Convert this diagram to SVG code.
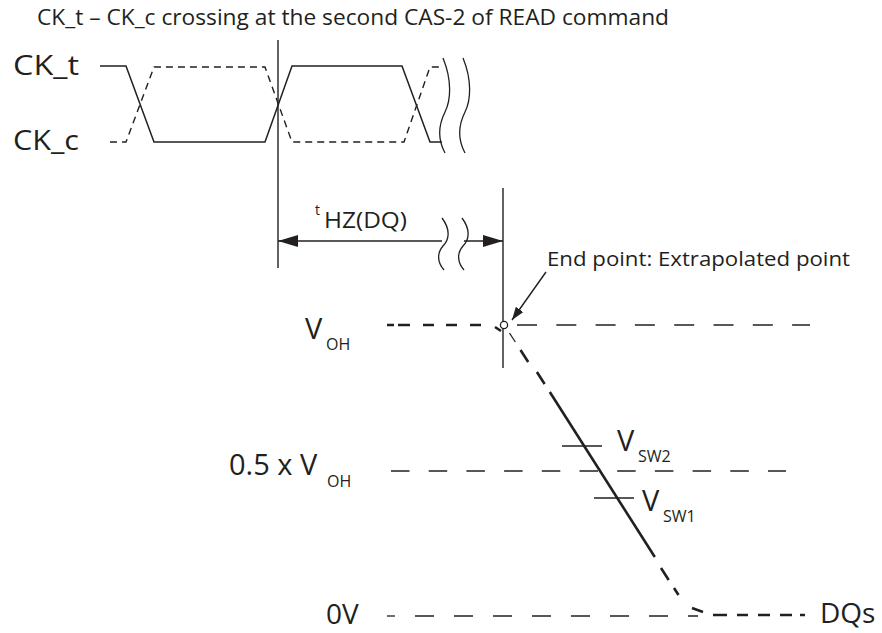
<svg xmlns="http://www.w3.org/2000/svg" width="882" height="633" viewBox="0 0 882 633">
<defs>
<style>
.t{font-family:"Open Sans","Noto Sans","Liberation Sans",sans-serif;fill:#231f20}
.ln{fill:none;stroke:#231f20;stroke-width:1.4}
.thin{fill:none;stroke:#231f20;stroke-width:1.3}
.thk{fill:none;stroke:#231f20;stroke-width:2.6}
.ck{fill:none;stroke:#231f20;stroke-width:1.5}
.ckd{fill:none;stroke:#231f20;stroke-width:1.4;stroke-dasharray:7 5}
</style>
<marker id="ah" viewBox="0 0 20 12" refX="20" refY="6" markerWidth="20" markerHeight="12" markerUnits="userSpaceOnUse" orient="auto-start-reverse">
<path d="M0,0 L20,6 L0,12 Z" fill="#231f20"/>
</marker>
<marker id="ah2" viewBox="0 0 13 9" refX="13" refY="4.5" markerWidth="13" markerHeight="9" markerUnits="userSpaceOnUse" orient="auto">
<path d="M0,0 L13,4.5 L0,9 Z" fill="#231f20"/>
</marker>
</defs>
<rect width="882" height="633" fill="#fff"/>

<g id="title">
<text class="t" x="37" y="25" font-size="21" textLength="632" lengthAdjust="spacingAndGlyphs">CK_t – CK_c crossing at the second CAS-2 of READ command</text>
</g>

<g id="clock">
<text class="t" x="13" y="75" font-size="28" textLength="66" lengthAdjust="spacingAndGlyphs">CK_t</text>
<text class="t" x="13" y="150" font-size="28" textLength="66" lengthAdjust="spacingAndGlyphs">CK_c</text>
<path class="ck" d="M100,66 L126,66 L154,142 L265,142 L292,66 L402,66 L430,142 L442,142"/>
<path class="ckd" d="M110,142 L126,142 L154,67 L265,67 L292,142 L404,142 L430,67 L442,67"/>
<path class="thin" d="M443,58 C452,80 451,100 445,112 C438,126 438,140 445,153"/>
<path class="thin" d="M463,58 C472,80 471,100 465,112 C458,126 458,140 465,153"/>
</g>

<g id="connectors">
<line class="ln" x1="278" y1="40" x2="278" y2="268"/>
<line class="ln" x1="503" y1="188" x2="503" y2="368"/>
<line class="ln" x1="278" y1="241" x2="442" y2="241" marker-start="url(#ah)"/>
<line class="ln" x1="464" y1="241" x2="503" y2="241" marker-end="url(#ah)"/>
<path class="thin" d="M442,218 C451,230 449,240 443,246 C437,253 437,262 444,270"/>
<path class="thin" d="M462,218 C471,230 469,240 463,246 C457,253 457,262 464,270"/>
<line class="ln" x1="546" y1="272" x2="512" y2="320" marker-end="url(#ah2)"/>
</g>

<g id="thz">
<text class="t" x="315" y="215" font-size="14">t</text>
<text class="t" x="324" y="228" font-size="22" textLength="83" lengthAdjust="spacingAndGlyphs">HZ(DQ)</text>
</g>

<g id="endpoint">
<text class="t" x="547" y="266" font-size="20" textLength="303" lengthAdjust="spacingAndGlyphs">End point: Extrapolated point</text>
<circle cx="504" cy="325" r="3.6" fill="#fff" stroke="#231f20" stroke-width="1.3"/>
</g>

<g id="levels">
<text class="t" x="305" y="339" font-size="29">V</text>
<text class="t" x="326" y="350" font-size="16">OH</text>
<text class="t" x="229" y="475" font-size="29">0.5 x V</text>
<text class="t" x="327" y="487" font-size="16">OH</text>
<text class="t" x="326" y="624" font-size="28">0V</text>
<text class="t" x="820" y="623" font-size="28">DQs</text>
<line class="thin" x1="517" y1="325" x2="810" y2="325" stroke-dasharray="20 19.3"/>
<line class="thin" x1="391" y1="471" x2="786" y2="471" stroke-dasharray="18.5 19.2"/>
<line class="thin" x1="387" y1="616" x2="395" y2="616"/>
<line class="thin" x1="415" y1="616" x2="698" y2="616" stroke-dasharray="19 20"/>
</g>

<g id="dq">
<path class="thk" d="M387,325 H394 M398,325 H410 M423,325 H434 M446,325 H457 M470,325 H481 M495,327 L501,331"/>
<line x1="509.5" y1="333" x2="515.3" y2="342" stroke="#231f20" stroke-width="1.3"/>
<path class="thk" d="M520.5,350 L528.2,362 M536.9,372 L544.6,384"/>
<line x1="549.8" y1="392" x2="654.8" y2="557" stroke="#231f20" stroke-width="2.6"/>
<path class="thk" d="M661,568 L668.7,580 M674,588 L678.5,595 M692,608 L703,612"/>
<path class="thk" d="M713,615 H727 M737,615 H748 M758,615 H770 M780,615 H792 M800,615 H805"/>
</g>

<g id="vsw">
<line class="thin" x1="562" y1="446" x2="602" y2="446"/>
<text class="t" x="617" y="451" font-size="29">V</text>
<text class="t" x="638" y="462" font-size="16">SW2</text>
<line class="thin" x1="594" y1="498" x2="634" y2="498"/>
<text class="t" x="642" y="511" font-size="29">V</text>
<text class="t" x="663" y="522" font-size="16">SW1</text>
</g>
</svg>
